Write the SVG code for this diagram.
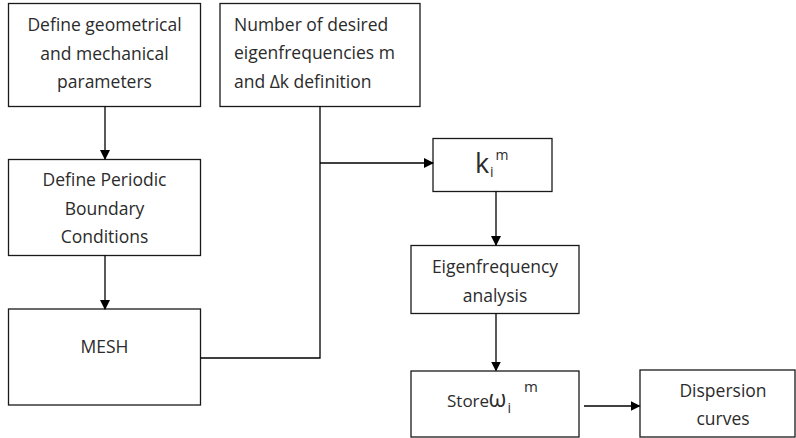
<svg xmlns="http://www.w3.org/2000/svg" width="796" height="438" viewBox="0 0 796 438">
  <style>
    .box { fill: #ffffff; stroke: #1a1a1a; stroke-width: 1.3; }
    .wire { fill: none; stroke: #000000; stroke-width: 1.3; }
    .label { font-family: "Open Sans", "Liberation Sans", sans-serif; font-size: 17.5px; fill: #2b2b2b; }
    .mid { text-anchor: middle; }
  </style>
  <defs>
    <marker id="head" markerWidth="10" markerHeight="10" refX="9" refY="5" orient="auto" markerUnits="userSpaceOnUse">
      <path d="M0,0 L10,5 L0,10 Z" fill="#000000"/>
    </marker>
  </defs>

  <!-- process steps -->
  <g id="params">
    <rect class="box" x="8.5" y="3.5" width="192" height="103"/>
    <text class="label mid" x="104.5" y="31">Define geometrical</text>
    <text class="label mid" x="104.5" y="60">and mechanical</text>
    <text class="label mid" x="104.5" y="88">parameters</text>
  </g>

  <g id="eigen-count">
    <rect class="box" x="220" y="3.5" width="200" height="103"/>
    <text class="label" x="234" y="31">Number of desired</text>
    <text class="label" x="234" y="59">eigenfrequencies m</text>
    <text class="label" x="234" y="88">and  Δk definition</text>
  </g>

  <g id="periodic-bc">
    <rect class="box" x="8.5" y="159.5" width="192" height="96"/>
    <text class="label mid" x="104.5" y="186">Define Periodic</text>
    <text class="label mid" x="104.5" y="215">Boundary</text>
    <text class="label mid" x="104.5" y="243">Conditions</text>
  </g>

  <g id="mesh">
    <rect class="box" x="8.5" y="309" width="192" height="96"/>
    <text class="label mid" x="104.5" y="353">MESH</text>
  </g>

  <g id="wavenumber">
    <rect class="box" x="433" y="138.5" width="119" height="53"/>
    <text class="label" x="475" y="172.5" style="font-size:27px">k</text>
    <text class="label" x="490" y="177" style="font-size:14px">i</text>
    <text class="label" x="495.5" y="160" style="font-size:14px">m</text>
  </g>

  <g id="eigen-analysis">
    <rect class="box" x="411" y="245.5" width="168" height="68"/>
    <text class="label mid" x="495" y="273">Eigenfrequency</text>
    <text class="label mid" x="495" y="302">analysis</text>
  </g>

  <g id="store">
    <rect class="box" x="411" y="371" width="168" height="66"/>
    <text class="label" x="447" y="407" style="font-size:17px">Store</text>
    <text class="label" x="488.5" y="407" style="font-size:23px">ω</text>
    <text class="label" x="507.5" y="413" style="font-size:14px">i</text>
    <text class="label" x="524" y="392" style="font-size:15px">m</text>
  </g>

  <g id="dispersion">
    <rect class="box" x="640" y="370" width="155" height="67"/>
    <text class="label mid" x="723" y="397">Dispersion</text>
    <text class="label mid" x="723" y="425">curves</text>
  </g>

  <!-- connectors -->
  <g id="connectors">
    <line class="wire" x1="105" y1="106.5" x2="105" y2="159" marker-end="url(#head)"/>
    <line class="wire" x1="105" y1="255.5" x2="105" y2="309" marker-end="url(#head)"/>
    <polyline class="wire" points="200.5,358 320,358 320,106.5"/>
    <line class="wire" x1="320" y1="163" x2="433" y2="163" marker-end="url(#head)"/>
    <line class="wire" x1="496" y1="191.5" x2="496" y2="245" marker-end="url(#head)"/>
    <line class="wire" x1="496" y1="313.5" x2="496" y2="370.5" marker-end="url(#head)"/>
    <line class="wire" x1="584" y1="406" x2="639.5" y2="406" marker-end="url(#head)"/>
  </g>
</svg>
